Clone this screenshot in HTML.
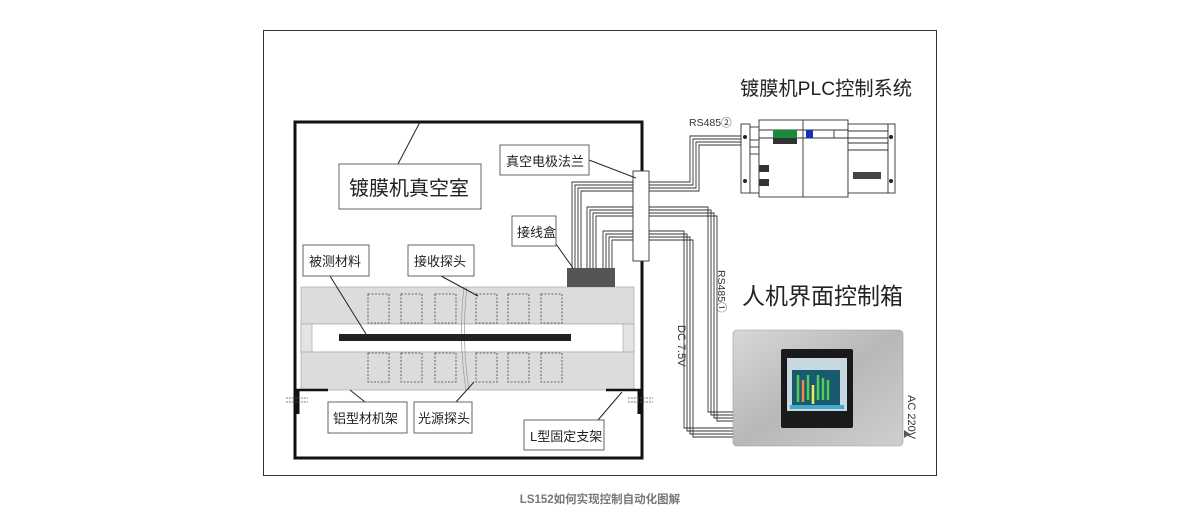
<!DOCTYPE html>
<html><head><meta charset="utf-8"><style>
body{margin:0;background:#fff;width:1200px;height:521px;overflow:hidden}
svg{display:block}
text{font-family:"Liberation Sans","Noto Sans CJK SC",sans-serif}
</style></head><body>
<svg width="1200" height="521" viewBox="0 0 1200 521">
<defs>
<linearGradient id="met" x1="0" y1="0" x2="1" y2="1">
<stop offset="0" stop-color="#d8d8d8"/><stop offset="0.5" stop-color="#b8b8b8"/><stop offset="1" stop-color="#cfcfcf"/>
</linearGradient>
</defs>
<rect x="263.5" y="30.5" width="673" height="445" fill="#fff" stroke="#333" stroke-width="1"/>
<rect x="295" y="122" width="347" height="336" fill="#fff" stroke="#111" stroke-width="3"/>
<rect x="301" y="287" width="333" height="37" fill="#dcdcdc" stroke="#aaa" stroke-width="0.7"/>
<rect x="301" y="324" width="333" height="28" fill="#fff" stroke="#aaa" stroke-width="0.7"/>
<rect x="301" y="324" width="11" height="28" fill="#e4e4e4" stroke="#aaa" stroke-width="0.7"/>
<rect x="623" y="324" width="11" height="28" fill="#e4e4e4" stroke="#aaa" stroke-width="0.7"/>
<rect x="301" y="352" width="333" height="38" fill="#dcdcdc" stroke="#aaa" stroke-width="0.7"/>
<g fill="none" stroke="#444" stroke-width="0.8" stroke-dasharray="2,1.5">
<rect x="368" y="294" width="21" height="29"/><rect x="401" y="294" width="21" height="29"/><rect x="435" y="294" width="21" height="29"/><rect x="476" y="294" width="21" height="29"/><rect x="508" y="294" width="21" height="29"/><rect x="541" y="294" width="21" height="29"/>
<rect x="368" y="353" width="21" height="29"/><rect x="401" y="353" width="21" height="29"/><rect x="435" y="353" width="21" height="29"/><rect x="476" y="353" width="21" height="29"/><rect x="508" y="353" width="21" height="29"/><rect x="541" y="353" width="21" height="29"/>
</g>
<path d="M464 287 Q458 338 466 390 M467 287 Q461 338 469 390" fill="none" stroke="#999" stroke-width="0.7"/>
<rect x="339" y="334" width="232" height="7" fill="#222"/>
<path d="M295 390 H328 M606 390 H642" stroke="#111" stroke-width="2.5"/>
<path d="M298 390 V414 M639 390 V414" stroke="#111" stroke-width="3"/>
<g stroke="#555" stroke-width="0.8" stroke-dasharray="2,1">
<path d="M286 398 H308 M286 402 H308 M628 398 H653 M628 402 H653"/>
</g>
<g fill="none" stroke="#333" stroke-width="0.9">
<path d="M572 268 V182 H690 V136 H748"/><path d="M575 268 V185 H693 V139 H748"/><path d="M578 268 V188 H696 V142 H748"/><path d="M581 268 V191 H699 V145 H748"/>
<path d="M587 268 V207 H708 V412 H735"/><path d="M590 268 V210 H711 V415 H735"/><path d="M593 268 V213 H714 V418 H735"/><path d="M596 268 V216 H717 V421 H735"/>
<path d="M603 268 V231 H684 V428 H735"/><path d="M606 268 V234 H687 V431 H735"/><path d="M609 268 V237 H690 V434 H735"/><path d="M612 268 V240 H693 V437 H735"/>
</g>
<rect x="633" y="171" width="16" height="90" fill="#fff" stroke="#333" stroke-width="0.9"/>
<rect x="567" y="268" width="48" height="19" fill="#555"/>
<g stroke="#222" stroke-width="1" fill="none">
<path d="M398 164 L420 122"/><path d="M589 160 L636 178"/><path d="M556 244 L573 268"/>
<path d="M330 276 L366 334"/><path d="M441 276 L478 296"/><path d="M350 390 L365 402"/><path d="M456 402 L474 382"/><path d="M598 420 L622 392"/>
</g>
<g fill="#fff" stroke="#555" stroke-width="0.9">
<rect x="339" y="164" width="142" height="45"/><rect x="500" y="145" width="89" height="30"/><rect x="512" y="216" width="44" height="30"/>
<rect x="303" y="245" width="66" height="31"/><rect x="408" y="245" width="66" height="31"/>
<rect x="328" y="402" width="79" height="31"/><rect x="414" y="402" width="58" height="31"/><rect x="524" y="420" width="80" height="30"/>
</g>
<g fill="#222" font-size="13">
<text x="349" y="195" font-size="20">镀膜机真空室</text>
<text x="506" y="166">真空电极法兰</text>
<text x="517" y="237">接线盒</text>
<text x="309" y="266">被测材料</text>
<text x="414" y="266">接收探头</text>
<text x="333" y="423">铝型材机架</text>
<text x="418" y="423">光源探头</text>
<text x="530" y="441">L型固定支架</text>
</g>
<g fill="#fff" stroke="#333" stroke-width="0.9">
<rect x="741" y="124" width="9" height="69"/><rect x="750" y="127" width="9" height="66"/>
<rect x="759" y="120" width="89" height="77"/><line x1="803" y1="120" x2="803" y2="197"/>
<rect x="848" y="124" width="40" height="69"/><rect x="888" y="124" width="7" height="69"/>
<line x1="759" y1="130" x2="848" y2="130"/><line x1="759" y1="138" x2="848" y2="138"/>
<line x1="848" y1="131" x2="888" y2="131"/><line x1="848" y1="138" x2="888" y2="138"/><line x1="848" y1="143" x2="888" y2="143"/><line x1="848" y1="150" x2="888" y2="150"/>
<line x1="750" y1="140" x2="759" y2="140"/><line x1="750" y1="147" x2="759" y2="147"/><line x1="750" y1="154" x2="759" y2="154"/>
<line x1="834" y1="130" x2="834" y2="138"/>
</g>
<rect x="773" y="130" width="24" height="8" fill="#1a8a3c"/>
<rect x="806" y="130" width="7" height="8" fill="#1030c0"/>
<rect x="773" y="138" width="24" height="6" fill="#333"/>
<rect x="759" y="165" width="10" height="7" fill="#333"/><rect x="759" y="179" width="10" height="7" fill="#333"/>
<rect x="853" y="172" width="28" height="7" fill="#444"/>
<circle cx="745" cy="137" r="2" fill="#222"/><circle cx="745" cy="181" r="2" fill="#222"/><circle cx="891" cy="137" r="2" fill="#222"/><circle cx="891" cy="181" r="2" fill="#222"/>
<rect x="733" y="330" width="170" height="116" rx="4" fill="url(#met)" stroke="#999" stroke-width="0.6"/>
<rect x="781" y="349" width="72" height="79" rx="2" fill="#1a1a1a"/>
<rect x="787" y="358" width="60" height="53" fill="#c8d8e0"/>
<rect x="792" y="370" width="48" height="36" fill="#1a5a70"/>
<g stroke-width="2.5"><path d="M798 375 V402" stroke="#5c5"/><path d="M803 380 V402" stroke="#e84"/><path d="M808 375 V400" stroke="#5c5"/><path d="M813 385 V404" stroke="#ee4"/><path d="M818 375 V400" stroke="#5c5"/><path d="M823 378 V400" stroke="#5c5"/><path d="M828 380 V400" stroke="#5c5"/></g>
<rect x="790" y="405" width="54" height="4" fill="#4ac"/>
<path d="M904 430 L910 434 L904 438 Z" fill="#555"/>
<text x="740" y="95" font-size="19.5" fill="#222" textLength="172" lengthAdjust="spacingAndGlyphs">镀膜机PLC控制系统</text>
<text x="742" y="304" font-size="23" fill="#222">人机界面控制箱</text>
<text x="689" y="126" font-size="10.5" fill="#333">RS485②</text>
<text transform="translate(718,270) rotate(90)" font-size="10.5" fill="#333">RS485①</text>
<text transform="translate(678,325) rotate(90)" font-size="11" fill="#333">DC 7.5V</text>
<text transform="translate(908,395) rotate(90)" font-size="11" fill="#333">AC 220V</text>
<text x="600" y="503" font-size="11.5" font-weight="bold" fill="#777" text-anchor="middle">LS152如何实现控制自动化图解</text>
</svg>
</body></html>
